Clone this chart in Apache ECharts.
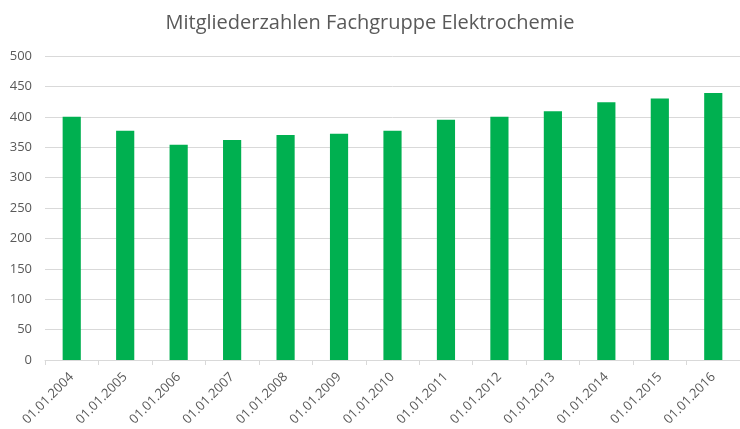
<!DOCTYPE html>
<html>
<head>
<meta charset="utf-8">
<script src="https://cdn.jsdelivr.net/npm/echarts@6/dist/echarts.min.js"></script>
<style>html,body{margin:0;padding:0;background:#fff}#c{width:740px;height:429px}</style>
</head>
<body>
<div id="c"></div>
<script>
var categories = ["01.01.2004","01.01.2005","01.01.2006","01.01.2007","01.01.2008","01.01.2009","01.01.2010","01.01.2011","01.01.2012","01.01.2013","01.01.2014","01.01.2015","01.01.2016"];
var members = [400, 377, 354, 362, 370, 372, 377, 395, 400, 409, 424, 430, 439];
var titleText = "Mitgliederzahlen Fachgruppe Elektrochemie";

var chart = echarts.init(document.getElementById('c'));
chart.setOption({
  animation: false,
  title: {
    text: titleText, left: 'center', top: 8,
    textStyle: { fontFamily: 'Open Sans', fontSize: 20, fontWeight: 'normal', color: '#595959' }
  },
  grid: { left: 45, width: 699, top: 56, bottom: 69 },
  xAxis: {
    type: 'category', data: categories,
    axisLine: { lineStyle: { color: '#d9d9d9' } },
    axisTick: { show: true, lineStyle: { color: '#d9d9d9' }, length: 5 },
    axisLabel: { rotate: 45, color: '#595959', fontFamily: 'Open Sans', fontSize: 13, margin: 15 }
  },
  yAxis: {
    type: 'value', min: 0, max: 500, interval: 50,
    axisLine: { show: false }, axisTick: { show: false },
    splitLine: { lineStyle: { color: '#d9d9d9', width: 1 } },
    axisLabel: { color: '#595959', fontFamily: 'Open Sans', fontSize: 13, margin: 13 }
  },
  series: [{
    type: 'bar', data: members, barWidth: '34%',
    itemStyle: { color: '#00B050' }
  }]
});
</script>
</body>
</html>
